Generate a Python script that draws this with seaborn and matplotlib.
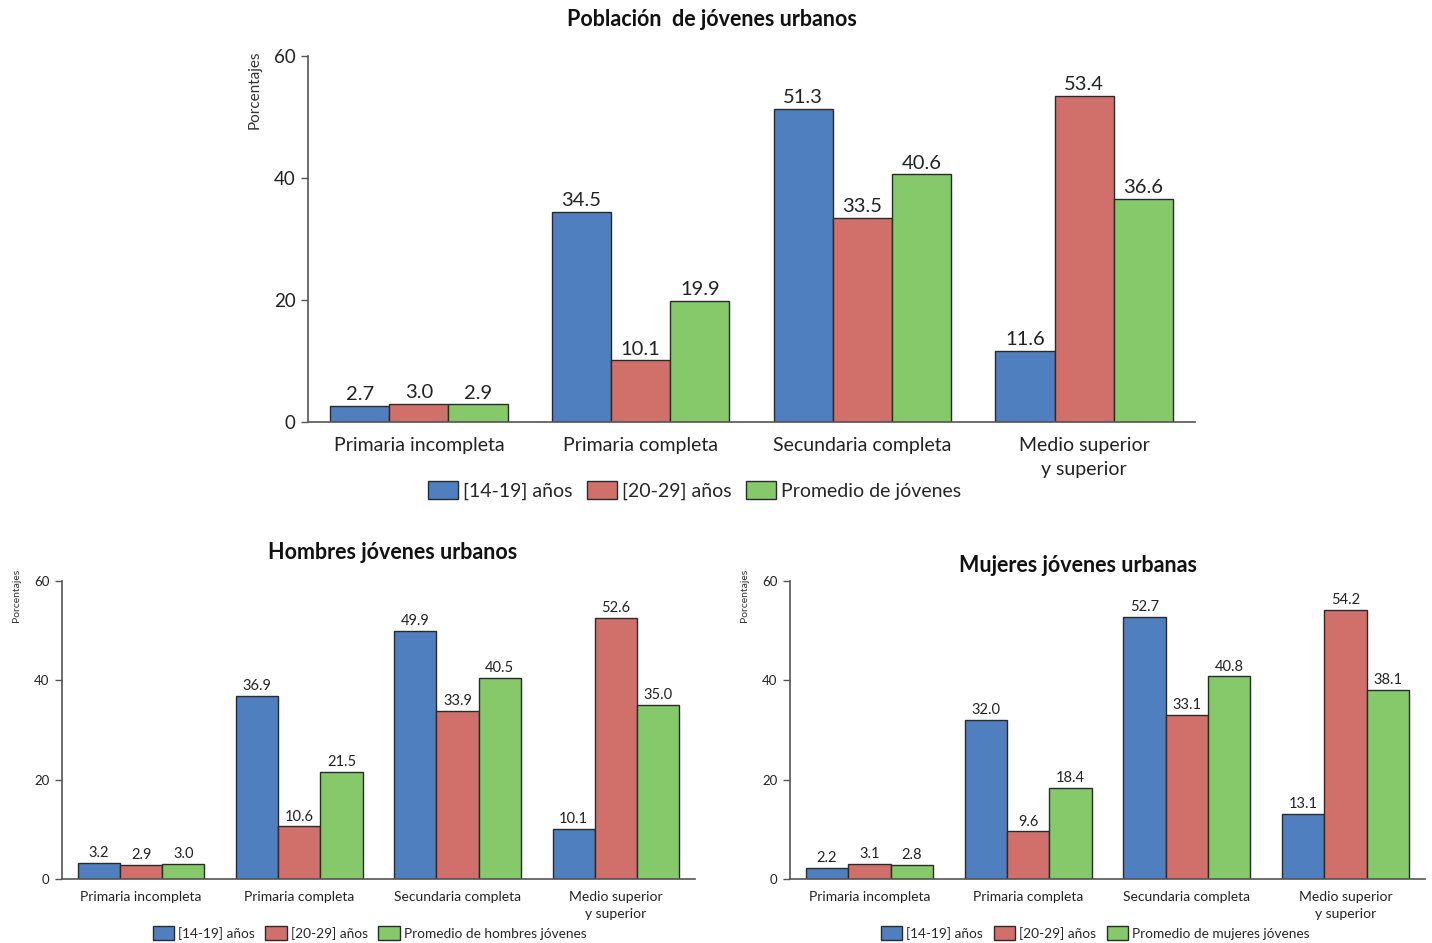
import numpy as np
import pandas as pd
import matplotlib
matplotlib.use("Agg")
import matplotlib.pyplot as plt
from matplotlib.patches import Patch
import seaborn as sns

# ---------------- data ----------------
categories = ["Primaria incompleta", "Primaria completa", "Secundaria completa", "Medio superior\ny superior"]
groups = ["[14-19] años", "[20-29] años", "Promedio"]

total_14_19 = [2.7, 34.5, 51.3, 11.6]
total_20_29 = [3.0, 10.1, 33.5, 53.4]
total_prom = [2.9, 19.9, 40.6, 36.6]

hombres_14_19 = [3.2, 36.9, 49.9, 10.1]
hombres_20_29 = [2.9, 10.6, 33.9, 52.6]
hombres_prom = [3.0, 21.5, 40.5, 35.0]

mujeres_14_19 = [2.2, 32.0, 52.7, 13.1]
mujeres_20_29 = [3.1, 9.6, 33.1, 54.2]
mujeres_prom = [2.8, 18.4, 40.8, 38.1]

titles = ["Población  de jóvenes urbanos", "Hombres jóvenes urbanos", "Mujeres jóvenes urbanas"]
legend_labels = [
    ["[14-19] años", "[20-29] años", "Promedio de jóvenes"],
    ["[14-19] años", "[20-29] años", "Promedio de hombres jóvenes"],
    ["[14-19] años", "[20-29] años", "Promedio de mujeres jóvenes"],
]
yticks = [0, 20, 40, 60]
ylabel = "Porcentajes"

colors = ["#4F7FBF", "#D1706B", "#86C96A"]


def make_df(a, b, c):
    rows = []
    for g, vals in zip(groups, [a, b, c]):
        for cat, v in zip(categories, vals):
            rows.append({"cat": cat, "grupo": g, "valor": v})
    return pd.DataFrame(rows)


sns.set_theme(style="white")
plt.rcParams["font.family"] = ["Lato", "DejaVu Sans"]

fig = plt.figure(figsize=(14.32, 9.43), dpi=100)

specs = [
    dict(rect=[0.2151, 0.5525, 0.6194, 0.3881], data=(total_14_19, total_20_29, total_prom),
         tick_fs=14, ytick_fs=13.5, val_fs=14.5, title_xy=(0.497, 0.979), title_fs=15.5,
         ylab_xy=(0.178, 0.905), ylab_fs=11, leg_xy=(0.485, 0.480), leg_fs=14, pad=11,
         hl=1.55, hh=1.1, htp=0.28, cs=0.72),
    dict(rect=[0.0433, 0.0679, 0.4420, 0.3160], data=(hombres_14_19, hombres_20_29, hombres_prom),
         tick_fs=10, ytick_fs=9.5, val_fs=10.5, title_xy=(0.2744, 0.4136), title_fs=15.5,
         ylab_xy=(0.0112, 0.369), ylab_fs=7.5, leg_xy=(0.258, 0.0106), leg_fs=9.8, pad=9,
         hl=1.55, hh=1.25, htp=0.3, cs=0.8),
    dict(rect=[0.5517, 0.0679, 0.4434, 0.3160], data=(mujeres_14_19, mujeres_20_29, mujeres_prom),
         tick_fs=10, ytick_fs=9.5, val_fs=10.5, title_xy=(0.7528, 0.4008), title_fs=15.5,
         ylab_xy=(0.520, 0.369), ylab_fs=7.5, leg_xy=(0.765, 0.0106), leg_fs=9.8, pad=9,
         hl=1.55, hh=1.25, htp=0.3, cs=0.8),
]

for i, sp in enumerate(specs):
    ax = fig.add_axes(sp["rect"])
    df = make_df(*sp["data"])
    sns.barplot(data=df, x="cat", y="valor", hue="grupo", order=categories,
                hue_order=groups, palette=colors, saturation=1, width=0.8, gap=0,
                edgecolor="#2a2a2a", linewidth=1.0, legend=False, ax=ax)
    for cont in ax.containers:
        ax.bar_label(cont, fmt="%.1f", padding=2, fontsize=sp["val_fs"], color="#222222")
    ax.set_ylim(0, 60)
    ax.set_xlim(-0.5, 3.5)
    ax.set_yticks(yticks)
    ax.set_xlabel("")
    ax.set_ylabel("")
    for s in ["top", "right"]:
        ax.spines[s].set_visible(False)
    for s in ["left", "bottom"]:
        ax.spines[s].set_color("#555555")
        ax.spines[s].set_linewidth(1.2)
    ax.tick_params(axis="y", left=True, length=5, width=1, color="#555555",
                   labelsize=sp["ytick_fs"], labelcolor="#222222", pad=4)
    ax.tick_params(axis="x", bottom=False, length=0, labelsize=sp["tick_fs"],
                   labelcolor="#222222", pad=sp["pad"])
    for lab in ax.get_xticklabels():
        lab.set_linespacing(1.45)
    fig.text(*sp["title_xy"], titles[i], ha="center", va="center",
             fontsize=sp["title_fs"], fontweight="bold", color="#111111")
    fig.text(*sp["ylab_xy"], ylabel, ha="center", va="center", rotation=90,
             fontsize=sp["ylab_fs"], color="#333333")
    handles = [Patch(facecolor=c, edgecolor="#2a2a2a", linewidth=1.0) for c in colors]
    fig.legend(handles, legend_labels[i], loc="center", bbox_to_anchor=sp["leg_xy"],
               ncol=3, frameon=False, fontsize=sp["leg_fs"], handlelength=sp["hl"],
               handleheight=sp["hh"], handletextpad=sp["htp"], columnspacing=sp["cs"])

fig.savefig("out.png", dpi=100)
